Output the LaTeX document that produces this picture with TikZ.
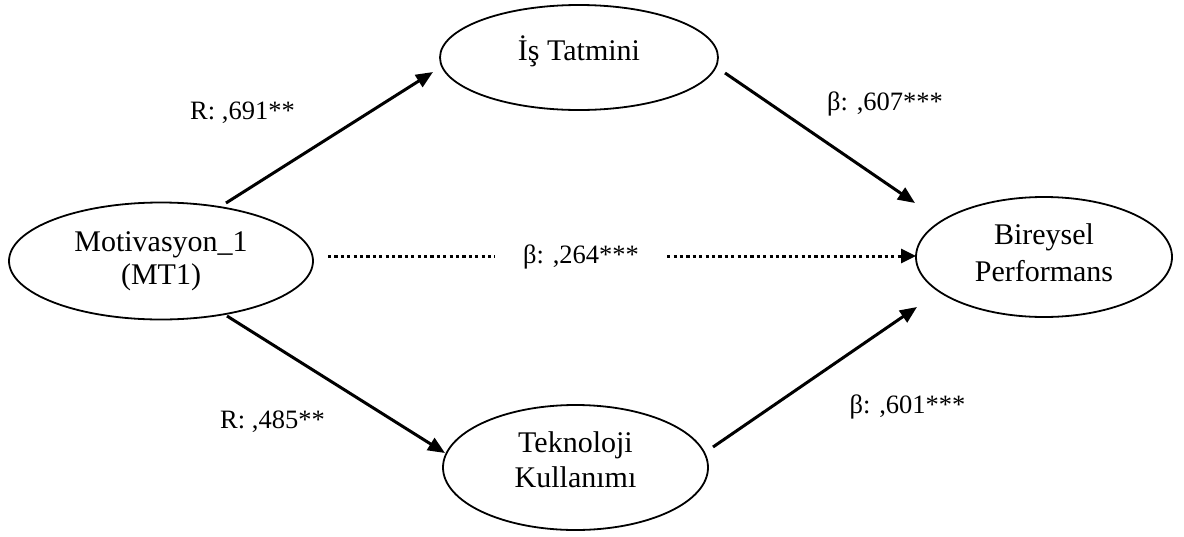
\documentclass[tikz,border=0pt]{standalone}
\usepackage{fontspec}
\setmainfont{Liberation Serif}
\usetikzlibrary{shapes.geometric,arrows.meta,calc}

% extra depth below the last line, lifts the text inside an ellipse
\newcommand{\liftby}[1]{\rule[-#1]{0pt}{#1}}

\tikzset{
  construct/.style={ellipse, draw=black, line width=1.8pt, inner sep=0pt,
    align=center, font=\fontsize{30}{35}\selectfont},
  coef/.style={anchor=base, inner sep=0pt, font=\fontsize{26.5}{30}\selectfont},
  arr/.style={line width=3pt, -{Triangle[length=17pt,width=14pt]}},
  dotarr/.style={line width=3pt, dash pattern=on 3.2pt off 3.2pt,
    -{Triangle[length=15pt,width=14pt]}},
  dotseg/.style={line width=3pt, dash pattern=on 3.2pt off 3.2pt}
}

\begin{document}
\begin{tikzpicture}[x=1pt,y=-1pt]
  \useasboundingbox (0,0) rectangle (1184,536);

  % latent constructs
  \node[construct, minimum width=304pt, minimum height=117pt] (mt) at (161,261)
    {Motivasyon\_1\\[-2pt](MT1)};
  \node[construct, minimum width=278pt, minimum height=105pt] (is) at (579,57.5)
    {İş Tatmini\liftby{18pt}};
  \node[construct, minimum width=265pt, minimum height=125pt] (tk) at (575.5,467.5)
    {Teknoloji\\Kullanımı\liftby{15pt}};
  \node[construct, minimum width=256pt, minimum height=120pt] (bp) at (1044,257)
    {Bireysel\\[2pt]Performans\liftby{9pt}};

  % path coefficients
  \node[coef] (r691) at (242.5,119) {R: ,691**};
  \node[coef] (r485) at (272.5,428) {R: ,485**};
  \node[coef] (b607) at (885,110) {β: ,607***};
  \node[coef] (b601) at (907.5,413) {β: ,601***};
  \node[coef, anchor=center, inner xsep=28pt] (b264) at (581,257) {β: ,264***};

  % structural paths
  \draw[arr] ($(mt.center)+(65,-58)$) -- ($(is.center)+(-146,14.5)$);
  \draw[arr] ($(is.center)+(146,15.5)$) -- ($(bp.center)+(-129,-54)$);
  \draw[arr] ($(mt.center)+(66,55)$) -- ($(tk.center)+(-130.5,-14.5)$);
  \draw[arr] ($(tk.center)+(137.5,-20.5)$) -- ($(bp.center)+(-127,50)$);

  % direct effect (dotted)
  \draw[dotseg] ($(mt.center)+(167,-5)$) -- (b264.west |- 0,256);
  \draw[dotarr] (b264.east |- 0,256) -- ($(bp.center)+(-128,-1)$);
\end{tikzpicture}
\end{document}
